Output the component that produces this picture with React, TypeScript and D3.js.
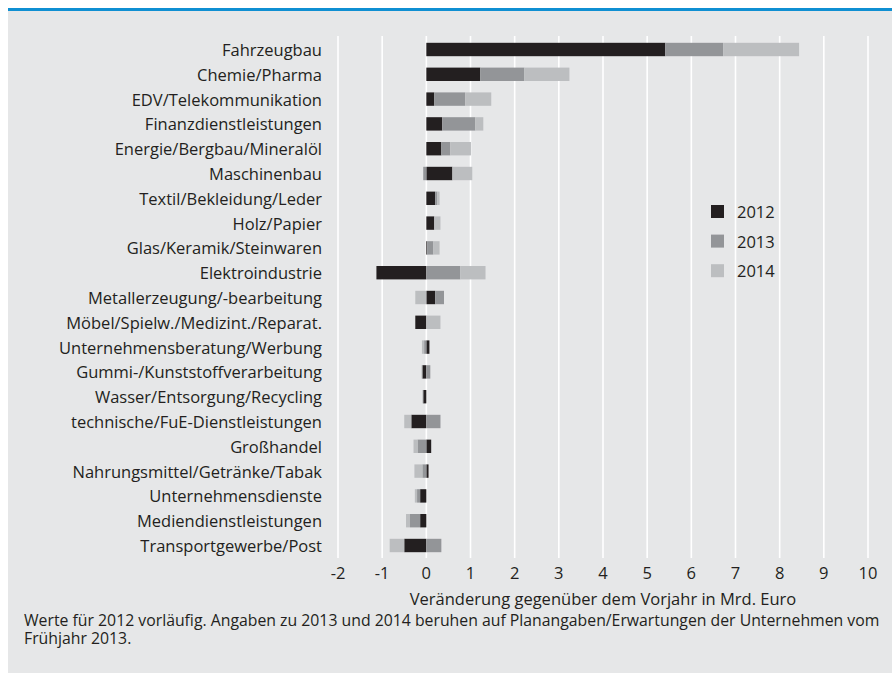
import React from "react";
import { scaleLinear, scaleBand, stack, stackOffsetDiverging, range } from "d3";

// Branches (top to bottom)
const categories = [
  "Fahrzeugbau",
  "Chemie/Pharma",
  "EDV/Telekommunikation",
  "Finanzdienstleistungen",
  "Energie/Bergbau/Mineralöl",
  "Maschinenbau",
  "Textil/Bekleidung/Leder",
  "Holz/Papier",
  "Glas/Keramik/Steinwaren",
  "Elektroindustrie",
  "Metallerzeugung/-bearbeitung",
  "Möbel/Spielw./Medizint./Reparat.",
  "Unternehmensberatung/Werbung",
  "Gummi-/Kunststoffverarbeitung",
  "Wasser/Entsorgung/Recycling",
  "technische/FuE-Dienstleistungen",
  "Großhandel",
  "Nahrungsmittel/Getränke/Tabak",
  "Unternehmensdienste",
  "Mediendienstleistungen",
  "Transportgewerbe/Post",
];

// change vs previous year, bn euro
const v2012 = [5.41, 1.22, 0.18, 0.36, 0.34, 0.59, 0.2, 0.18, 0.02, -1.13, 0.2, -0.25, 0.07, -0.09, -0.07, -0.34, 0.11, 0.05, -0.14, -0.14, -0.5];
const v2013 = [1.31, 1.0, 0.7, 0.75, 0.2, -0.07, 0.05, 0, 0.14, 0.77, 0.2, 0, -0.05, 0.09, 0, 0.32, -0.2, -0.09, -0.07, -0.23, 0.34];
const v2014 = [1.72, 1.02, 0.59, 0.18, 0.47, 0.45, 0.05, 0.14, 0.14, 0.57, -0.25, 0.32, -0.05, -0.02, -0.02, -0.16, -0.09, -0.18, -0.05, -0.09, -0.33];

const seriesNames = ["2012", "2013", "2014"];
const xTicks = range(-2, 11);
const axisTitle = "Veränderung gegenüber dem Vorjahr in Mrd. Euro";
const noteLines = [
  "Werte für 2012 vorläufig. Angaben zu 2013 und 2014 beruhen auf Planangaben/Erwartungen der Unternehmen vom",
  "Frühjahr 2013.",
];

const width = 892;
const height = 673;
const colors = ["#231f20", "#939598", "#bcbec0"];
const font = "'Open Sans', sans-serif";
const textColor = "#231f20";
const fs = 16.5;

const App = () => {
  const rows = categories.map((c, i) => ({
    name: c,
    "2012": v2012[i],
    "2013": v2013[i],
    "2014": v2014[i],
  }));

  const series = stack<any>().keys(seriesNames).offset(stackOffsetDiverging)(rows);

  const x = scaleLinear().domain([-2, 10]).range([338, 868]);
  const y = scaleBand<string>()
    .domain(categories)
    .range([37.1, 557.9])
    .paddingInner(0.46)
    .paddingOuter(0.23);

  const gridTop = 36;
  const gridBottom = 558;

  return (
    <svg
      width={width}
      height={height}
      style={{ position: "fixed", left: 0, top: 0, display: "block" }}
      fontFamily={font}
    >
      <rect x={0} y={0} width={width} height={height} fill="#ffffff" />
      <rect x={8} y={11} width={width - 8} height={height - 11} fill="#e6e7e8" />
      <rect x={8} y={8} width={width - 8} height={3} fill="#0f8fd2" />

      {/* grid */}
      {xTicks.map((t) => (
        <line
          key={"g" + t}
          x1={x(t)}
          x2={x(t)}
          y1={gridTop}
          y2={gridBottom}
          stroke="#ffffff"
          strokeWidth={1.6}
        />
      ))}

      {/* bars */}
      {series.map((s, si) => (
        <g key={s.key} fill={colors[si]}>
          {s.map((d: any, i: number) => {
            const x0 = x(Math.min(d[0], d[1]));
            const x1 = x(Math.max(d[0], d[1]));
            if (x1 - x0 <= 0) return null;
            return (
              <rect
                key={i}
                x={x0}
                y={y(categories[i])}
                width={x1 - x0}
                height={y.bandwidth()}
              />
            );
          })}
        </g>
      ))}

      {/* category labels */}
      {categories.map((c) => (
        <text
          key={c}
          x={322}
          y={(y(c) as number) + y.bandwidth() / 2}
          textAnchor="end"
          dominantBaseline="central"
          fontSize={fs}
          fill={textColor}
        >
          {c}
        </text>
      ))}

      {/* x tick labels */}
      {xTicks.map((t) => (
        <text
          key={"t" + t}
          x={x(t)}
          y={572}
          textAnchor="middle"
          dominantBaseline="central"
          fontSize={fs}
          fill={textColor}
        >
          {t}
        </text>
      ))}
      <text
        x={(x(-2) + x(10)) / 2}
        y={598}
        textAnchor="middle"
        dominantBaseline="central"
        fontSize={fs}
        fill={textColor}
      >
        {axisTitle}
      </text>

      {/* legend */}
      {seriesNames.map((n, i) => (
        <g key={n} transform={`translate(711, ${205 + i * 29.6})`}>
          <rect width={13} height={13} fill={colors[i]} />
          <text x={26} y={6.5} dominantBaseline="central" fontSize={fs} fill={textColor}>
            {n}
          </text>
        </g>
      ))}

      {/* note */}
      {noteLines.map((l, i) => (
        <text key={i} x={24} y={620 + i * 18} dominantBaseline="central" fontSize={15.8} fill={textColor}>
          {l}
        </text>
      ))}
    </svg>
  );
};

export default App;
